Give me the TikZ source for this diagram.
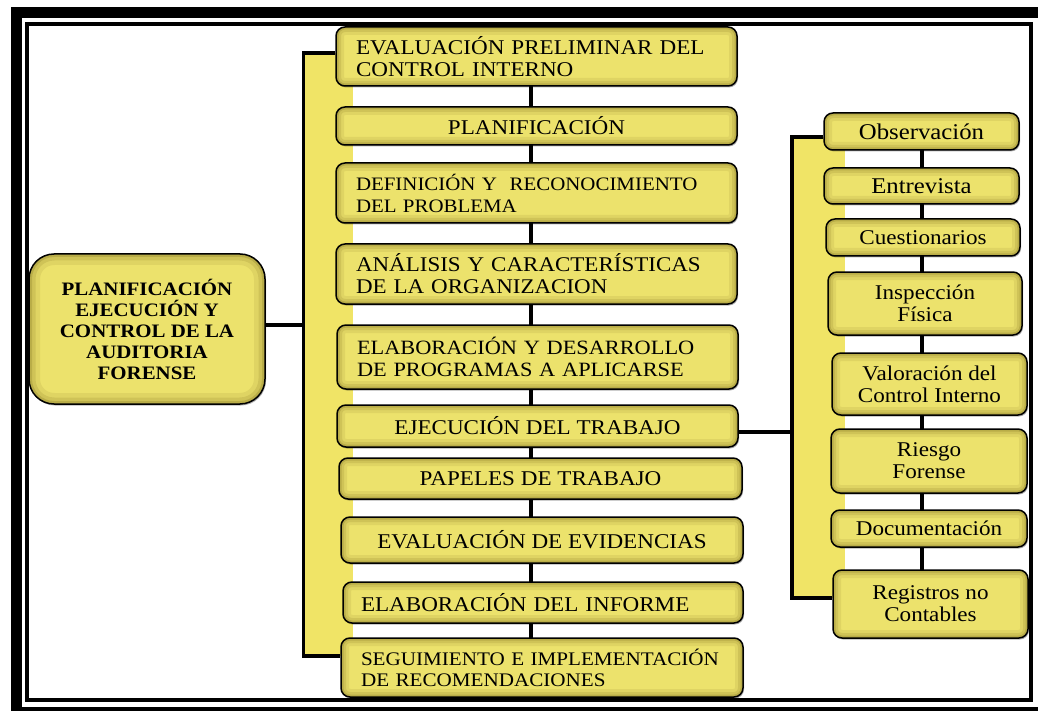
\documentclass[tikz,border=0pt]{standalone}
\usepackage{fontspec}
\setmainfont{Liberation Serif}[FakeStretch=1.1]
\usetikzlibrary{backgrounds,shadows}
\definecolor{boxy}{RGB}{236,226,108}
\definecolor{stripy}{RGB}{240,228,102}
\definecolor{shady}{RGB}{110,95,20}
\tikzset{
  ybox/.style={draw=black, line width=1.5pt, fill=boxy, rounded corners=9pt, inner sep=0pt, align=center,
    drop shadow={shadow xshift=1pt, shadow yshift=-1.5pt, opacity=0.3, fill=black},
    path picture={\foreach \w/\o in {16/0.10,10/0.14,5/0.22}{\draw[line width=\w pt, draw=shady, opacity=\o, rounded corners=9pt] (path picture bounding box.north west) rectangle (path picture bounding box.south east);}}},
  bigbox/.style={draw=black, line width=1.5pt, fill=boxy, rounded corners=25pt, inner sep=0pt, align=center,
    drop shadow={shadow xshift=1pt, shadow yshift=-1.5pt, opacity=0.3, fill=black},
    path picture={\foreach \w/\o in {22/0.10,13/0.14,6/0.22}{\draw[line width=\w pt, draw=shady, opacity=\o, rounded corners=25pt] (path picture bounding box.north west) rectangle (path picture bounding box.south east);}}},
  mtext/.style={font=\fontsize{21}{22}\selectfont},
  rtext/.style={font=\fontsize{21}{22}\selectfont},
  conn/.style={draw=black, line width=3.2pt, line join=miter},
}
\begin{document}
\begin{tikzpicture}[x=1pt,y=-1pt]
\useasboundingbox (0,0) rectangle (1038,711);
\clip (0,0) rectangle (1038,711);
% frame
\draw[line width=11pt] (16,12.5) rectangle (1043,712);
\draw[line width=3.5pt] (27,24) rectangle (1031,700);

% left node
\node[bigbox, minimum width=236pt, minimum height=150pt, font=\fontsize{19}{21}\selectfont\bfseries] (L) at (147,329)
  {PLANIFICACIÓN\\EJECUCIÓN Y\\CONTROL DE LA\\AUDITORIA\\FORENSE};

% main column
\node[ybox, mtext, minimum width=401pt, minimum height=59pt, text width=361pt, align=left] (b1) at (536.5,56.5)
  {EVALUACIÓN PRELIMINAR DEL\\CONTROL INTERNO};
\node[ybox, mtext, minimum width=401pt, minimum height=38pt] (b2) at (536.5,126) {PLANIFICACIÓN};
\node[ybox, font=\fontsize{19}{22}\selectfont, minimum width=401pt, minimum height=60pt, text width=361pt, align=left] (b3) at (536.5,193)
  {DEFINICIÓN Y \ RECONOCIMIENTO\\DEL PROBLEMA};
\node[ybox, font=\fontsize{20.9}{22}\selectfont, minimum width=401pt, minimum height=60pt, text width=361pt, align=left] (b4) at (536.5,274)
  {ANÁLISIS Y CARACTERÍSTICAS\\DE LA ORGANIZACION};
\node[ybox, font=\fontsize{20.3}{22}\selectfont, minimum width=401pt, minimum height=64pt, text width=361pt, align=left] (b5) at (537.5,357)
  {ELABORACIÓN Y DESARROLLO\\DE PROGRAMAS A APLICARSE};
\node[ybox, mtext, minimum width=401pt, minimum height=42pt] (b6) at (537.5,426) {EJECUCIÓN DEL TRABAJO};
\node[ybox, mtext, minimum width=403pt, minimum height=41pt] (b7) at (540.5,478.5) {PAPELES DE TRABAJO};
\node[ybox, mtext, minimum width=402pt, minimum height=46pt] (b8) at (542,540) {EVALUACIÓN DE EVIDENCIAS};
\node[ybox, mtext, minimum width=400pt, minimum height=41pt, text width=364pt, align=left] (b9) at (543,602.5) {ELABORACIÓN DEL INFORME};
\node[ybox, font=\fontsize{19.2}{21}\selectfont, minimum width=402pt, minimum height=59pt, text width=362pt, align=left] (b10) at (542,667.5)
  {SEGUIMIENTO E IMPLEMENTACIÓN\\DE RECOMENDACIONES};

% right column
\node[ybox, font=\fontsize{22.5}{22}\selectfont, minimum width=195pt, minimum height=37pt] (r1) at (921.5,131.5) {Observación};
\node[ybox, font=\fontsize{22.5}{22}\selectfont, minimum width=195pt, minimum height=36pt] (r2) at (921.5,186) {Entrevista};
\node[ybox, rtext, minimum width=194pt, minimum height=37pt] (r3) at (923,237.5) {Cuestionarios};
\node[ybox, rtext, minimum width=194pt, minimum height=63pt] (r4) at (925,303.5) {Inspección\\Física};
\node[ybox, rtext, minimum width=195pt, minimum height=62pt] (r5) at (929.5,384) {Valoración del\\Control Interno};
\node[ybox, rtext, minimum width=196pt, minimum height=64pt] (r6) at (929,461) {Riesgo\\Forense};
\node[ybox, rtext, minimum width=196pt, minimum height=37pt] (r7) at (929,528.5) {Documentación};
\node[ybox, rtext, minimum width=195pt, minimum height=68pt] (r8) at (930.5,604) {Registros no\\Contables};

% connectors
\coordinate (mtl) at (303.5,53);
\coordinate (mbl) at (303.5,656);
\coordinate (lc) at (303.5,325);
\coordinate (mx) at (531,0);
\coordinate (rtl) at (792,137);
\coordinate (rbl) at (792,598);
\coordinate (ec) at (792,432);
\coordinate (rx) at (922,0);
\begin{scope}[on background layer]
  \fill[white] (0,0) rectangle (1038,711);
  \fill[stripy] (mtl) rectangle (353,656);
  \fill[stripy] (rtl) rectangle (845,598);
  \draw[conn] (b1.west |- mtl) -- (mtl) -- (mbl) -- (b10.west |- mbl);
  \draw[conn] (L.east |- lc) -- (lc);
  \draw[conn] (b1 -| mx) -- (b10 -| mx);
  \draw[conn] (r1.west |- rtl) -- (rtl) -- (rbl) -- (r8.west |- rbl);
  \draw[conn] (b6.east |- ec) -- (ec);
  \draw[conn] (r1 -| rx) -- (r8 -| rx);
\end{scope}
\end{tikzpicture}
\end{document}
